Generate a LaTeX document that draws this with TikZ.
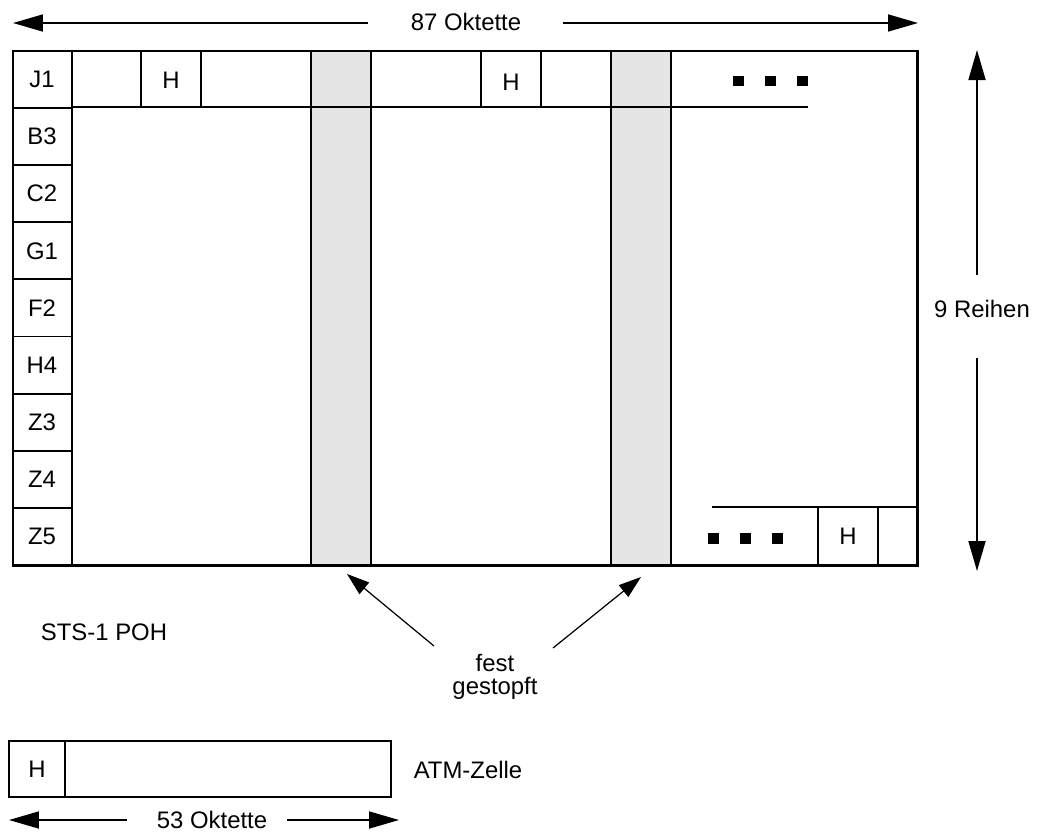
\documentclass[tikz,border=0pt]{standalone}
\usepackage{fontspec}
\setmainfont{Liberation Sans}
\usetikzlibrary{arrows.meta,calc}
\tikzset{
  lbl/.style={font=\fontsize{13.6}{13}\selectfont, inner sep=1pt, align=center},
  frameline/.style={line width=1.7pt},
  cellline/.style={line width=1.1pt},
  dimarrow/.style={line width=1pt, -{Triangle[length=0.6cm,width=0.34cm]}},
  fillarrow/.style={line width=0.7pt, -{Triangle[length=0.45cm,width=0.3cm]}},
  dot/.style={fill=black}
}
\begin{document}
\begin{tikzpicture}[x=0.02cm, y=-0.02cm]
        \useasboundingbox (0,0) rectangle (1041,836);
        % stuffed columns
        \fill[gray!20] (311,51) rectangle (371,565);
        \fill[gray!20] (611,51) rectangle (671,565);
        \draw[cellline] (311,51) -- (311,565) (371,51) -- (371,565);
        \draw[cellline] (611,51) -- (611,565) (671,51) -- (671,565);
        % path overhead column
        \draw[cellline] (72,51) -- (72,565);
        \foreach \lab [count=\i] in {J1,B3,C2,G1,F2,H4,Z3,Z4,Z5} {
            \node[lbl] (poh\i) at (42,{51+57.1*\i-28.55}) {\lab};
            \draw[cellline] (13,{51+57.1*\i}) -- (72,{51+57.1*\i});
        }
        % first row with cell headers
        \draw[cellline] (72,107) -- (808,107);
        \draw[cellline] (141,51) -- (141,107) (201,51) -- (201,107);
        \draw[cellline] (481,51) -- (481,107) (541,51) -- (541,107);
        \node[lbl] (hdrA) at (171,80) {H};
        \node[lbl] (hdrB) at (511,82) {H};
        \foreach \x in {733,765,797} {
            \fill[dot] (\x,76) rectangle (\x+11,86);
        }
        % last row with cell header
        \draw[cellline] (712,507) -- (917,507);
        \draw[cellline] (818,507) -- (818,565) (878,507) -- (878,565);
        \node[lbl] (hdrC) at (848,536) {H};
        \foreach \x in {708,740,772} {
            \fill[dot] (\x,533) rectangle (\x+11,544);
        }
        % frame
        \draw[frameline] (13,51) rectangle (917,565);
        % dimensions
        \node[lbl] (octA) at (466,22) {87 Oktette};
        \draw[dimarrow] (octA) ++(-98,1) -- (13,23);
        \draw[dimarrow] (octA) ++(97,1) -- (918,23);
        \node[lbl] (rows) at (982,309) {9 Reihen};
        \draw[dimarrow] (rows) ++(-5,-34) -- (977,50);
        \draw[dimarrow] (rows) ++(-5,49) -- (977,571);
        % labels below
        \node[lbl] (poh) at (104,632) {STS-1 POH};
        \node[lbl] (fest) at (495,677) {fest\\gestopft};
        \draw[fillarrow] (fest) ++(-61,-31) -- (347,574);
        \draw[fillarrow] (fest) ++(58,-29) -- (641,577);
        % ATM cell
        \draw[cellline] (9,741) rectangle (391,797);
        \draw[frameline] (65,741) -- (65,797);
        \node[lbl] (atmH) at (37,769) {H};
        \node[lbl] (atm) at (468,770) {ATM-Zelle};
        \node[lbl] (octB) at (212,820) {53 Oktette};
        \draw[dimarrow] (octB) ++(-85,0) -- (9,820);
        \draw[dimarrow] (octB) ++(75,0) -- (399,820);
\end{tikzpicture}
\end{document}
